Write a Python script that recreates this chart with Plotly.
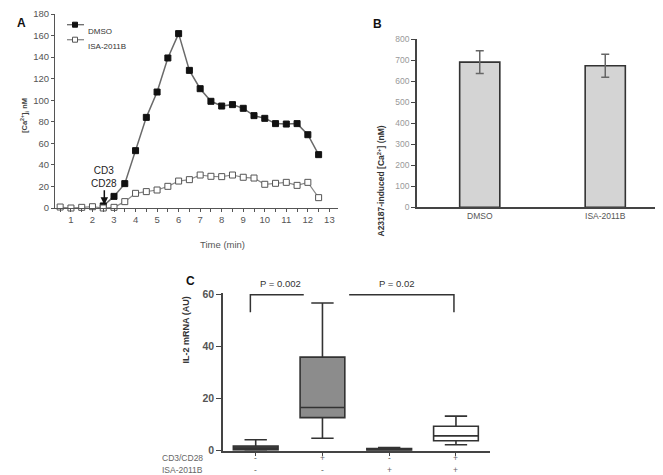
import plotly.graph_objects as go

W, H = 663, 475
FONT = "Liberation Sans, Arial, sans-serif"

# ---------------- Panel A data ----------------
time_isa = [0.5, 1.0, 1.5, 2.0, 2.5, 3.0, 3.5, 4.0, 4.5, 5.0, 5.5, 6.0, 6.5,
            7.0, 7.5, 8.0, 8.5, 9.0, 9.5, 10.0, 10.5, 11.0, 11.5, 12.0, 12.5]
ca_isa = [0.9, 0.0, 0.6, 1.2, 0.0, 0.6, 5.9, 13.6, 15.2, 16.7, 20.1, 25.0, 26.3,
          30.6, 29.4, 29.1, 30.6, 28.5, 27.8, 22.0, 22.9, 23.8, 21.0, 23.8, 9.6]
time_dmso = [2.5, 3.0, 3.5, 4.0, 4.5, 5.0, 5.5, 6.0, 6.5, 7.0, 7.5, 8.0, 8.5,
             9.0, 9.5, 10.0, 10.5, 11.0, 11.5, 12.0, 12.5]
ca_dmso = [1.9, 10.8, 22.6, 53.2, 84.1, 107.6, 139.2, 161.8, 127.7, 110.7, 99.0,
           94.6, 95.9, 92.5, 85.7, 83.2, 78.3, 77.9, 78.3, 68.0, 49.5]
series_names = ["DMSO", "ISA-2011B"]
stim_time = 2.55
stim_level = 2.0

# ---------------- Panel B data ----------------
b_categories = ["DMSO", "ISA-2011B"]
b_values = [690, 673]
b_errors = [54, 55]

# ---------------- Panel C data ----------------
c_positions = [0, 1, 2, 3]
c_lower = [0.0, 4.8, 0.0, 2.3]
c_q1 = [0.3, 12.7, 0.1, 3.8]
c_median = [1.0, 16.6, 0.4, 5.7]
c_q3 = [1.8, 36.0, 0.8, 9.4]
c_upper = [4.2, 56.8, 1.2, 13.3]
c_fills = ["#4f4f4f", "#8c8c8c", "#4f4f4f", "#ffffff"]
cd3_row = ["-", "+", "-", "+"]
isa_row = ["-", "-", "+", "+"]
p_values = ["P = 0.002", "P = 0.02"]


def px_x(p):
    return p / W


def px_y(p):
    return 1 - p / H


DMSO_LINE = "#6a6a6a"
DMSO_MARK = "#111111"
ISA_LINE = "#8a8a8a"
ISA_EDGE = "#555555"

fig = go.Figure()

# Panel A traces
fig.add_trace(go.Scatter(
    x=time_dmso, y=ca_dmso, name=series_names[0], mode="lines+markers",
    line=dict(color=DMSO_LINE, width=1.5),
    marker=dict(symbol="square", size=6, color=DMSO_MARK,
                line=dict(color=DMSO_MARK, width=1)),
    cliponaxis=False, showlegend=False, xaxis="x", yaxis="y"))
fig.add_trace(go.Scatter(
    x=time_isa, y=ca_isa, name=series_names[1], mode="lines+markers",
    line=dict(color=ISA_LINE, width=1.2),
    marker=dict(symbol="square", size=6, color="#ffffff",
                line=dict(color=ISA_EDGE, width=1)),
    cliponaxis=False, showlegend=False, xaxis="x", yaxis="y"))

# Panel B bars
fig.add_trace(go.Bar(
    x=[0, 1], y=b_values, width=0.32, showlegend=False,
    marker=dict(color="#d4d4d4", line=dict(color="#333333", width=1.6)),
    error_y=dict(type="data", array=b_errors, color="#666666",
                 thickness=1.5, width=4),
    xaxis="x2", yaxis="y2"))

# Panel C boxes
for i, pos in enumerate(c_positions):
    fig.add_trace(go.Box(
        x=[pos], q1=[c_q1[i]], median=[c_median[i]], q3=[c_q3[i]],
        lowerfence=[c_lower[i]], upperfence=[c_upper[i]],
        width=0.67, fillcolor=c_fills[i], boxpoints=False,
        line=dict(color="#333333", width=1.6), showlegend=False,
        xaxis="x3", yaxis="y3"))

axis_font_a = dict(family=FONT, size=9.5, color="#555555")
common = dict(showgrid=False, zeroline=False, automargin=False, showline=True)

fig.update_layout(
    template="none",
    width=W, height=H,
    margin=dict(l=0, r=0, t=0, b=0, pad=0, autoexpand=False),
    paper_bgcolor="white", plot_bgcolor="white",
    font=dict(family=FONT, color="#333333"),
    showlegend=False,
    xaxis=dict(domain=[px_x(47), px_x(330)], range=[0.26, 13.4],
               tickvals=list(range(1, 14)), ticks="outside", ticklen=3,
               tickcolor="#555555", linecolor="#555555", linewidth=1,
               tickfont=axis_font_a,
               minor=dict(dtick=0.5, tick0=0.5, ticks="outside", ticklen=3,
                          tickcolor="#555555", showgrid=False),
               anchor="y", **common),
    yaxis=dict(domain=[px_y(200), px_y(6)], range=[0, 180],
               tickvals=list(range(0, 181, 20)), ticks="outside", ticklen=3,
               tickcolor="#555555", linecolor="#555555", linewidth=1,
               tickfont=axis_font_a, anchor="x", **common),
    xaxis2=dict(domain=[px_x(409), px_x(660)], range=[-0.5, 1.5],
                tickvals=[0, 1], ticktext=b_categories, ticks="",
                linecolor="#444444", linewidth=1.5,
                tickfont=dict(family=FONT, size=8.5, color="#555555"),
                anchor="y2", **common),
    yaxis2=dict(domain=[px_y(199.3), px_y(31)], range=[0, 800],
                tickvals=list(range(0, 801, 100)), ticks="outside", ticklen=4,
                tickcolor="#444444", linecolor="#444444", linewidth=1.5,
                tickfont=dict(family=FONT, size=8.5, color="#999999"),
                anchor="x2", **common),
    xaxis3=dict(domain=[px_x(215), px_x(482)], range=[-0.49, 3.51],
                tickvals=c_positions, showticklabels=False, ticks="outside",
                ticklen=4, tickcolor="#444444", linecolor="#444444",
                linewidth=1.5, anchor="y3", **common),
    yaxis3=dict(domain=[px_y(442.7), px_y(285.1)], range=[0, 60.6],
                tickvals=[0, 20, 40, 60], ticks="outside", ticklen=5,
                tickcolor="#444444", linecolor="#444444", linewidth=1.5,
                tickfont=dict(family=FONT, size=10.5, color="#555555",
                              weight="bold"),
                anchor="x3", **common),
)

ann = []
# panel letters
for letter, x, y in [("A", 7, 6), ("B", 369, 7), ("C", 176, 273)]:
    ann.append(dict(text="<b>%s</b>" % letter, x=px_x(x), y=px_y(y),
                    xref="paper", yref="paper", showarrow=False,
                    font=dict(family=FONT, size=12, color="#111111")))
# axis titles
ann.append(dict(text="<b>[Ca<sup>2+</sup>]<sub>i</sub> nM</b>", x=px_x(9), y=px_y(88),
                xref="paper", yref="paper", showarrow=False, textangle=-90,
                font=dict(family=FONT, size=7.5, color="#444444")))
ann.append(dict(text="Time (min)", x=px_x(190), y=px_y(236),
                xref="paper", yref="paper", showarrow=False,
                font=dict(family=FONT, size=9.5, color="#555555")))
ann.append(dict(text="<b>A23187-induced [Ca<sup>2+</sup>] (nM)</b>", x=px_x(373),
                y=px_y(116), xref="paper", yref="paper", showarrow=False,
                textangle=-90, font=dict(family=FONT, size=8.5, color="#333333")))
ann.append(dict(text="<b>IL-2 mRNA (AU)</b>", x=px_x(170), y=px_y(357),
                xref="paper", yref="paper", showarrow=False, textangle=-90,
                font=dict(family=FONT, size=9, color="#333333")))
# stimulus arrow
ann.append(dict(text="CD3<br>CD28", x=stim_time, y=stim_level, xref="x", yref="y",
                showarrow=True, arrowhead=2, arrowsize=1, arrowwidth=1.5,
                arrowcolor="#111111", ax=0, ay=-29, standoff=1,
                font=dict(family=FONT, size=10, color="#222222")))
# p values
ann.append(dict(text=p_values[0], x=0.37, y=px_y(275), xref="x3", yref="paper",
                showarrow=False, font=dict(family=FONT, size=9.5, color="#333333")))
ann.append(dict(text=p_values[1], x=2.11, y=px_y(275), xref="x3", yref="paper",
                showarrow=False, font=dict(family=FONT, size=9.5, color="#333333")))
# condition rows
ann.append(dict(text="CD3/CD28", x=px_x(152), y=px_y(457), xref="paper", yref="paper",
                xanchor="left", showarrow=False,
                font=dict(family=FONT, size=8.5, color="#666666")))
ann.append(dict(text="ISA-2011B", x=px_x(152), y=px_y(469), xref="paper", yref="paper",
                xanchor="left", showarrow=False,
                font=dict(family=FONT, size=8.5, color="#666666")))
for i, pos in enumerate(c_positions):
    ann.append(dict(text=cd3_row[i], x=pos, y=px_y(457), xref="x3", yref="paper",
                    showarrow=False, font=dict(family=FONT, size=8.5, color="#666666")))
    ann.append(dict(text=isa_row[i], x=pos, y=px_y(469), xref="x3", yref="paper",
                    showarrow=False, font=dict(family=FONT, size=8.5, color="#666666")))

# manual legend (panel A)
legend_rows = [(series_names[0], 16.7, DMSO_LINE, DMSO_MARK, DMSO_MARK),
               (series_names[1], 31.7, ISA_LINE, "#ffffff", ISA_EDGE)]
for name, ly, lc, fill, edge in legend_rows:
    fig.add_shape(type="line", xref="paper", yref="paper",
                  x0=px_x(59), x1=px_x(76), y0=px_y(ly), y1=px_y(ly),
                  line=dict(color=lc, width=1.3))
    fig.add_shape(type="rect", xref="paper", yref="paper",
                  x0=px_x(64.5), x1=px_x(69.5), y0=px_y(ly + 2.5), y1=px_y(ly - 2.5),
                  fillcolor=fill, line=dict(color=edge, width=1))
    ann.append(dict(text=name, x=px_x(78), y=px_y(ly), xref="paper", yref="paper",
                    xanchor="left", showarrow=False,
                    font=dict(family=FONT, size=8, color="#333333")))

fig.update_layout(annotations=ann)

# significance brackets
bracket_top = 60
bracket_drop = 53.2
br = dict(color="#333333", width=1.5)
fig.add_shape(type="path", xref="x3", yref="y3",
              path="M %f,%f L %f,%f L %f,%f" % (c_positions[0] - 0.08, bracket_drop,
                                                c_positions[0] - 0.08, bracket_top,
                                                c_positions[1] - 0.28, bracket_top),
              line=br)
fig.add_shape(type="path", xref="x3", yref="y3",
              path="M %f,%f L %f,%f L %f,%f" % (c_positions[1] + 0.40, bracket_top,
                                                c_positions[3] - 0.03, bracket_top,
                                                c_positions[3] - 0.03, bracket_drop),
              line=br)

fig.write_html("out.html")
